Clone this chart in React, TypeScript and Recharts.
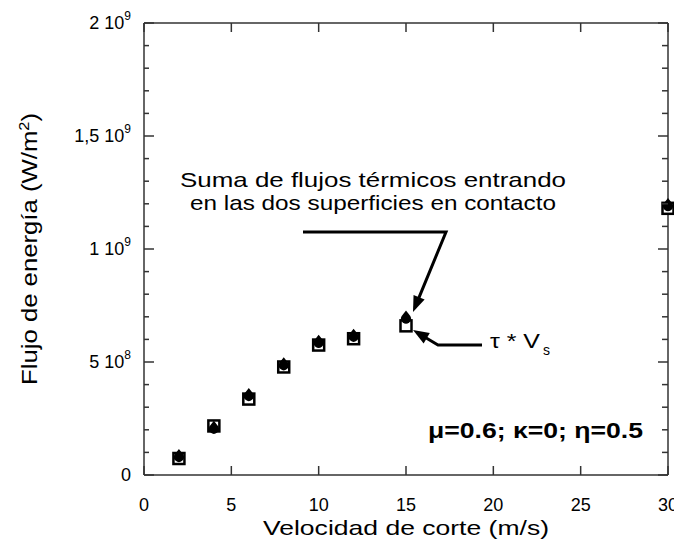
import React from "react";
import { ScatterChart, Scatter, XAxis, YAxis } from "recharts";

// velocidad de corte (m/s)
const velocidad = [2, 4, 6, 8, 10, 12, 15, 30];
// tau * Vs  (W/m2)
const tauVs = [0.073e9, 0.217e9, 0.336e9, 0.478e9, 0.575e9, 0.603e9, 0.66e9, 1.18e9];
// suma de flujos termicos entrando en las dos superficies (W/m2)
const sumaFlujos = [0.08e9, 0.205e9, 0.35e9, 0.486e9, 0.585e9, 0.612e9, 0.692e9, 1.19e9];

const xTicks = [0, 5, 10, 15, 20, 25, 30];
const yTicks = Array.from({ length: 21 }, (_, i) => i * 1e8);
const yLabels: Record<number, [string, string]> = {
  0: ["0", ""],
  500000000: ["5 10", "8"],
  1000000000: ["1 10", "9"],
  1500000000: ["1,5 10", "9"],
  2000000000: ["2 10", "9"],
};

const W = 674;
const H = 545;
const FONT = "'Liberation Sans', Arial, Helvetica, sans-serif";
const AXIS = "#333";

const tauData = velocidad.map((x, i) => ({ x, y: tauVs[i] }));
const sumaData = velocidad.map((x, i) => ({ x, y: sumaFlujos[i] }));

const isMajorY = (v: number) => Math.abs(v % 5e8) < 1;

const BottomTick = (p: any) => (
  <g>
    <line x1={p.x} y1={p.y} x2={p.x} y2={p.y - 9} stroke={AXIS} strokeWidth={1.5} />
    <text x={p.x} y={p.y + 36} textAnchor="middle" fontFamily={FONT} fontSize={18} fill="#000">
      {p.payload.value}
    </text>
  </g>
);

const TopTick = (p: any) => (
  <line x1={p.x} y1={p.y} x2={p.x} y2={p.y + 9} stroke={AXIS} strokeWidth={1.5} />
);

const LeftTick = (p: any) => {
  const v = p.payload.value;
  const major = isMajorY(v);
  const lab = yLabels[Math.round(v)];
  return (
    <g>
      <line x1={p.x} y1={p.y} x2={p.x + (major ? 10 : 5)} y2={p.y} stroke={AXIS} strokeWidth={1.5} />
      {lab && (
        <text x={p.x - 13} y={p.y + 6} textAnchor="end" fontFamily={FONT} fontSize={18} fill="#000">
          {lab[0]}
          {lab[1] && (
            <tspan dy={-9} fontSize={12}>
              {lab[1]}
            </tspan>
          )}
        </text>
      )}
    </g>
  );
};

const RightTick = (p: any) => {
  const major = isMajorY(p.payload.value);
  return (
    <line x1={p.x} y1={p.y} x2={p.x - (major ? 10 : 6)} y2={p.y} stroke={AXIS} strokeWidth={1.5} />
  );
};

const SquareMark = (p: any) => (
  <rect x={p.cx - 5.5} y={p.cy - 5.5} width={11} height={11} fill="#fff" stroke="#000" strokeWidth={2.5} />
);

const DropMark = (p: any) => {
  const { cx, cy } = p;
  const d = `M ${cx} ${cy - 8} L ${cx + 4.3} ${cy - 2.5} A 5 5 0 1 1 ${cx - 4.3} ${cy - 2.5} Z`;
  return <path d={d} fill="#000" />;
};

function Arrow({ pts }: { pts: [number, number][] }) {
  const [tx, ty] = pts[pts.length - 1];
  const [px, py] = pts[pts.length - 2];
  const len = Math.hypot(tx - px, ty - py);
  const ux = (tx - px) / len;
  const uy = (ty - py) / len;
  const hl = 16;
  const hw = 6;
  const bx = tx - ux * hl;
  const by = ty - uy * hl;
  const head = `${tx},${ty} ${bx - uy * hw},${by + ux * hw} ${bx + uy * hw},${by - ux * hw}`;
  const line = pts
    .map((q, i) => (i === pts.length - 1 ? [tx - ux * (hl - 2), ty - uy * (hl - 2)] : q))
    .map((q) => q.join(","))
    .join(" ");
  return (
    <g>
      <polyline points={line} fill="none" stroke="#000" strokeWidth={3} />
      <polygon points={head} fill="#000" />
    </g>
  );
}

export default function App() {
  return (
    <div style={{ position: "relative", width: W, height: H, background: "#fff" }}>
      <ScatterChart width={W} height={H} margin={{ top: 14, right: 13, left: 0, bottom: 0 }}>
        <XAxis
          xAxisId="b"
          type="number"
          dataKey="x"
          domain={[0, 30]}
          ticks={xTicks}
          interval={0}
          height={78}
          tickSize={0}
          tickMargin={0}
          tickLine={false}
          axisLine={{ stroke: AXIS, strokeWidth: 1.5 }}
          tick={BottomTick}
        />
        <XAxis
          xAxisId="t"
          orientation="top"
          type="number"
          dataKey="x"
          domain={[0, 30]}
          ticks={xTicks}
          interval={0}
          height={1}
          tickSize={0}
          tickMargin={0}
          tickLine={false}
          axisLine={{ stroke: AXIS, strokeWidth: 1.5 }}
          tick={TopTick}
        />
        <YAxis
          yAxisId="l"
          type="number"
          dataKey="y"
          domain={[0, 2e9]}
          ticks={yTicks}
          interval={0}
          width={136}
          tickSize={0}
          tickMargin={0}
          tickLine={false}
          axisLine={{ stroke: AXIS, strokeWidth: 1.5 }}
          tick={LeftTick}
        />
        <YAxis
          yAxisId="r"
          orientation="right"
          type="number"
          dataKey="y"
          domain={[0, 2e9]}
          ticks={yTicks}
          interval={0}
          width={1}
          tickSize={0}
          tickMargin={0}
          tickLine={false}
          axisLine={{ stroke: AXIS, strokeWidth: 1.5 }}
          tick={RightTick}
        />
        <Scatter
          data={tauData}
          xAxisId="b"
          yAxisId="l"
          shape={SquareMark}
          isAnimationActive={false}
        />
        <Scatter
          data={sumaData}
          xAxisId="t"
          yAxisId="r"
          shape={DropMark}
          isAnimationActive={false}
        />
      </ScatterChart>

      <svg
        width={W}
        height={H}
        style={{ position: "absolute", left: 0, top: 0, pointerEvents: "none" }}
        fontFamily={FONT}
      >
        <text x={398} y={527} textAnchor="middle" fontSize={21} textLength={286} lengthAdjust="spacingAndGlyphs">
          Velocidad de corte (m/s)
        </text>
        <text
          x={29}
          y={241}
          transform="rotate(-90 29 241)"
          textAnchor="middle"
          fontSize={22}
          textLength={272}
          lengthAdjust="spacingAndGlyphs"
        >
          Flujo de energía (W/m<tspan dy={-8} fontSize={14}>2</tspan>
          <tspan dy={8}>)</tspan>
        </text>

        <text x={365} y={179} textAnchor="middle" fontSize={21} textLength={386} lengthAdjust="spacingAndGlyphs">
          Suma de flujos térmicos entrando
        </text>
        <text x={365} y={202} textAnchor="middle" fontSize={21} textLength={366} lengthAdjust="spacingAndGlyphs">
          en las dos superficies en contacto
        </text>
        <Arrow pts={[[295, 224], [438, 224], [405, 304]]} />

        <Arrow pts={[[474, 337], [430, 337], [405, 322]]} />
        <text x={482} y={340} fontSize={21} textLength={50} lengthAdjust="spacingAndGlyphs">
          τ * V
        </text>
        <text x={535} y={347} fontSize={14}>
          s
        </text>

        <text x={420} y={430} fontSize={22} fontWeight="bold" textLength={215} lengthAdjust="spacingAndGlyphs">
          μ=0.6; κ=0; η=0.5
        </text>
      </svg>
    </div>
  );
}
